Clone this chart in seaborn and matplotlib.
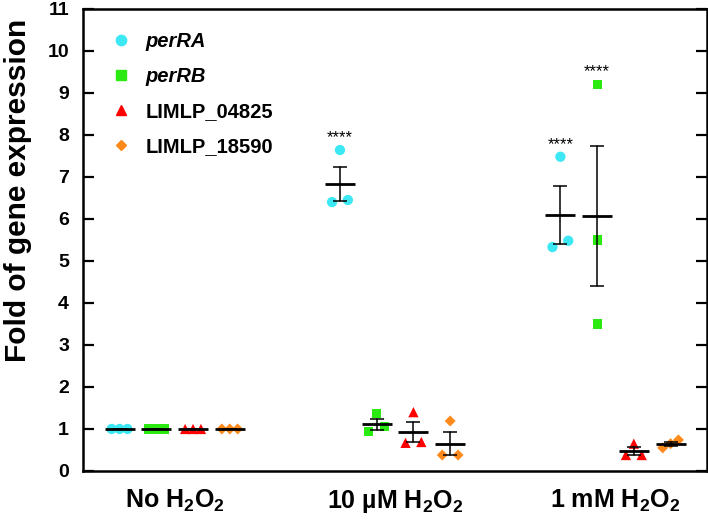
import numpy as np
import pandas as pd
import matplotlib
matplotlib.use("Agg")
import matplotlib.pyplot as plt
from matplotlib.lines import Line2D
import seaborn as sns

# ---- data ----
groups = ["No H$_\\mathbf{2}$O$_\\mathbf{2}$",
          "10 µM H$_\\mathbf{2}$O$_\\mathbf{2}$",
          "1 mM H$_\\mathbf{2}$O$_\\mathbf{2}$"]
genes = ["perRA", "perRB", "LIMLP_04825", "LIMLP_18590"]
perRA = [[1.0, 1.0, 1.0], [7.64, 6.40, 6.45], [7.48, 5.33, 5.48]]
perRB = [[1.0, 1.0, 1.0], [1.36, 0.93, 1.05], [9.20, 5.50, 3.50]]
limlp_04825 = [[1.0, 1.0, 1.0], [1.40, 0.67, 0.69], [0.65, 0.38, 0.38]]
limlp_18590 = [[1.0, 1.0, 1.0], [1.19, 0.38, 0.38], [0.74, 0.55, 0.65]]
significance = [(1, "perRA", "****"), (2, "perRA", "****"), (2, "perRB", "****")]
yticks = list(range(0, 12))

colors = {"perRA": "#3DE8F5", "perRB": "#2BEA12",
          "LIMLP_04825": "#FF0000", "LIMLP_18590": "#FF8A1C"}
markers = {"perRA": "o", "perRB": "s", "LIMLP_04825": "^", "LIMLP_18590": "D"}
msize = {"perRA": 7.4, "perRB": 6.6, "LIMLP_04825": 7.4, "LIMLP_18590": 5.6}

# ---- styling ----
sns.set_theme(style="ticks")
plt.rcParams["font.family"] = ["Liberation Sans", "DejaVu Sans"]
plt.rcParams["font.weight"] = "bold"
for k in ["text.color", "axes.labelcolor", "xtick.color", "ytick.color", "axes.edgecolor"]:
    plt.rcParams[k] = "black"
plt.rcParams["mathtext.fontset"] = "custom"
plt.rcParams["mathtext.rm"] = "Liberation Sans:bold"
plt.rcParams["mathtext.bf"] = "Liberation Sans:bold"
plt.rcParams["mathtext.it"] = "Liberation Sans:bold:italic"


def spread_offsets(vals, thr, step):
    """Place overlapping points side by side, non-overlapping ones centred."""
    vals = np.asarray(vals, dtype=float)
    idx = np.argsort(vals, kind="stable")
    offsets = np.zeros(len(vals))
    clusters, cur = [], [idx[0]]
    for a, b in zip(idx[:-1], idx[1:]):
        if vals[b] - vals[a] < thr:
            cur.append(b)
        else:
            clusters.append(cur)
            cur = [b]
    clusters.append(cur)
    for c in clusters:
        n = len(c)
        pattern = [-1.0, 1.0] if n == 2 else list(np.arange(n) - (n - 1) / 2)
        for i, p in zip(c, pattern):
            offsets[i] = p * step
    return offsets


# ---- long table; each group = 4 gene slots + 2 empty slots ----
series = {"perRA": perRA, "perRB": perRB,
          "LIMLP_04825": limlp_04825, "LIMLP_18590": limlp_18590}
slots_per_group = len(genes) + 2
rows = []
for gi in range(len(groups)):
    for k, g in enumerate(genes):
        vals = series[g][gi]
        slot = gi * slots_per_group + k
        offs = spread_offsets(vals, thr=0.24, step=0.215)
        for v, o in zip(vals, offs):
            rows.append({"gene": g, "group": gi, "slot": slot,
                         "xpos": slot + o, "value": v})
df = pd.DataFrame(rows)

fig = plt.figure(figsize=(7.08, 5.21), dpi=100)
ax = fig.add_axes([0.117, 0.096, 0.882, 0.887])

sns.scatterplot(data=df, x="xpos", y="value", hue="gene", style="gene",
                size="gene", hue_order=genes, style_order=genes,
                palette=colors, markers=markers,
                sizes={g: msize[g] ** 2 for g in genes},
                linewidth=0, legend=False, ax=ax, zorder=2)

sns.lineplot(data=df, x="slot", y="value", hue="gene", hue_order=genes,
             palette={g: "black" for g in genes}, errorbar="se", err_style="bars",
             marker="_", markersize=21, markeredgewidth=2.0, markeredgecolor="black",
             linewidth=0, legend=False, ax=ax, zorder=4,
             err_kws={"capsize": 4.7, "elinewidth": 1.1, "capthick": 1.1})

# significance stars
for gi, g, txt in significance:
    sub = df[(df["group"] == gi) & (df["gene"] == g)]
    ax.text(sub["slot"].iloc[0], sub["value"].max() + 0.12, txt, ha="center",
            va="bottom", fontsize=12, fontweight="normal", color="black")

# axes
ax.set_xlim(-1, 16)
ax.set_ylim(0, 11)
ax.set_yticks(yticks)
ax.set_yticklabels([str(t) for t in yticks], fontsize=14, fontweight="bold")
centers = [gi * slots_per_group + (len(genes) - 1) / 2 for gi in range(len(groups))]
ax.set_xticks(centers)
ax.set_xticklabels(groups, fontsize=18, fontweight="bold")
ax.tick_params(axis="x", length=0, pad=12)
ax.tick_params(axis="y", direction="in", length=8, width=1.6, right=True,
               labelright=False, pad=10)
ax.set_xlabel("")
ax.set_ylabel("Fold of gene expression", fontsize=21.5, fontweight="bold")
ax.yaxis.set_label_coords(-0.081, 0.608)
for sp in ax.spines.values():
    sp.set_linewidth(1.8)
    sp.set_visible(True)

handles = [Line2D([], [], linestyle="none", marker=markers[g], color=colors[g],
                  markersize=msize[g]) for g in genes]
leg = ax.legend(handles, genes, loc="upper left", frameon=False,
                bbox_to_anchor=(0.0, 0.989),
                prop={"size": 14.5, "weight": "bold"}, borderaxespad=0.5,
                labelspacing=0.8, handlelength=2.0, handletextpad=0.2)
for t in leg.get_texts()[:2]:
    t.set_style("italic")

fig.savefig("out.png", dpi=100)
